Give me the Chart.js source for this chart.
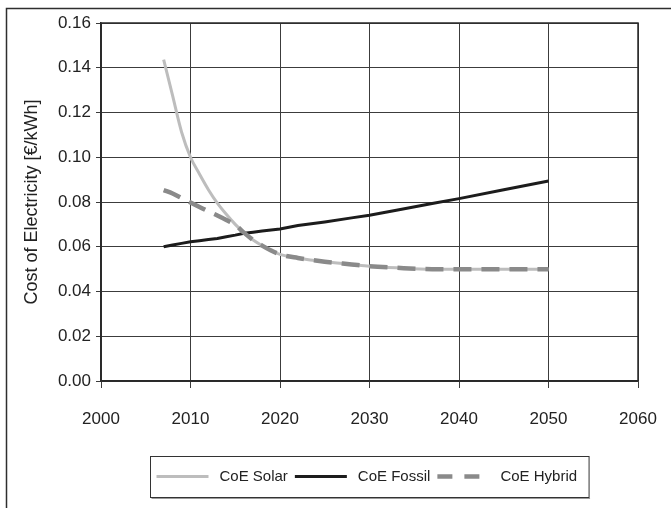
<!DOCTYPE html>
<html>
<head>
<meta charset="utf-8">
<script src="https://cdn.jsdelivr.net/npm/chart.js@4"></script>
<style>
  html, body { margin: 0; padding: 0; background: #ffffff; }
  canvas { display: block; }
</style>
</head>
<body>
<canvas id="c" width="671" height="508"></canvas>
<script>
// ---- data ----
const years = [2007, 2008, 2009, 2010, 2011, 2012, 2013, 2014, 2015, 2016, 2017, 2018, 2019, 2020,
               2022, 2025, 2028, 2030, 2033, 2037, 2040, 2045, 2050];
const coeSolar = [0.1436, 0.1275, 0.1113, 0.1000, 0.0925, 0.0855, 0.0795, 0.0745, 0.0700, 0.0662, 0.0630, 0.0605, 0.0583, 0.0566,
                  0.0550, 0.0533, 0.0521, 0.0513, 0.0506, 0.0500, 0.0500, 0.0500, 0.0500];
const coeFossil = [0.0600, 0.0608, 0.0615, 0.0622, 0.0627, 0.0632, 0.0637, 0.0645, 0.0652, 0.0660, 0.0665, 0.0670, 0.0675, 0.0679,
                   0.0695, 0.0711, 0.0729, 0.0741, 0.0763, 0.0793, 0.0815, 0.0855, 0.0894];
const coeHybrid = [0.0853, 0.0838, 0.0818, 0.0798, 0.0778, 0.0758, 0.0740, 0.0720, 0.0698, 0.0662, 0.0630, 0.0605, 0.0583, 0.0566,
                   0.0550, 0.0533, 0.0521, 0.0513, 0.0506, 0.0500, 0.0500, 0.0500, 0.0500];
const seriesNames = ['CoE Solar', 'CoE Fossil', 'CoE Hybrid'];
const xTickValues = [2000, 2010, 2020, 2030, 2040, 2050, 2060];
const yTickValues = [0.00, 0.02, 0.04, 0.06, 0.08, 0.10, 0.12, 0.14, 0.16];
const yAxisTitle = 'Cost of Electricity [€/kWh]';

const FONT = "'Liberation Sans', Arial, sans-serif";
const TEXT = '#222222';

function pts(vals) { return years.map((y, i) => ({ x: y, y: vals[i] })); }

const frameAndBorder = {
  id: 'frameAndBorder',
  beforeDraw(chart) {
    const ctx = chart.ctx;
    ctx.save();
    ctx.fillStyle = '#ffffff';
    ctx.fillRect(0, 0, chart.width, chart.height);
    ctx.strokeStyle = '#2e2e2e';
    ctx.lineWidth = 1.5;
    ctx.beginPath();
    ctx.moveTo(6.5, chart.height);
    ctx.lineTo(6.5, 8.5);
    ctx.lineTo(chart.width, 8.5);
    ctx.stroke();
    ctx.restore();
  },
  afterDatasetsDraw(chart) {
    const a = chart.chartArea, ctx = chart.ctx;
    ctx.save();
    ctx.strokeStyle = '#2a2a2a';
    ctx.lineWidth = 1.5;
    ctx.strokeRect(a.left, a.top, a.right - a.left, a.bottom - a.top);
    ctx.restore();
  }
};

const boxedLegend = {
  id: 'boxedLegend',
  afterDraw(chart) {
    const ctx = chart.ctx, a = chart.chartArea;
    ctx.save();
    ctx.font = '15px ' + FONT;
    const lineLen = 52, gapLine = 11, gapText = 7, padL = 6, padR = 12;
    let total = padL + padR;
    chart.data.datasets.forEach((ds, i) => {
      total += lineLen + gapLine + ctx.measureText(ds.label).width + (i < chart.data.datasets.length - 1 ? gapText : 0);
    });
    const cx = (a.left + a.right) / 2;
    const left = Math.round(cx - total / 2) + 0.5;
    const top = a.bottom + 75.5, h = 41;
    const cy = top + 20;
    ctx.strokeStyle = '#333333';
    ctx.lineWidth = 1;
    ctx.strokeRect(left, top, total, h);
    ctx.strokeStyle = '#9a9a9a';
    ctx.beginPath();
    ctx.moveTo(left + 1, top + h + 1);
    ctx.lineTo(left + total + 1, top + h + 1);
    ctx.stroke();
    let x = left + padL;
    chart.data.datasets.forEach((ds) => {
      ctx.strokeStyle = ds.borderColor;
      ctx.lineWidth = ds.borderWidth;
      ctx.setLineDash(ds.borderDash && ds.borderDash.length ? [15, 12] : []);
      ctx.beginPath();
      ctx.moveTo(x, cy);
      ctx.lineTo(x + lineLen, cy);
      ctx.stroke();
      ctx.setLineDash([]);
      x += lineLen + gapLine;
      ctx.fillStyle = TEXT;
      ctx.textBaseline = 'middle';
      ctx.textAlign = 'left';
      ctx.fillText(ds.label, x, cy);
      x += ctx.measureText(ds.label).width + gapText;
    });
    ctx.restore();
  }
};

new Chart(document.getElementById('c'), {
  type: 'line',
  data: {
    datasets: [
      { label: seriesNames[0], data: pts(coeSolar), borderColor: '#bdbdbd', borderWidth: 3,
        pointRadius: 0, cubicInterpolationMode: 'monotone', order: 3 },
      { label: seriesNames[1], data: pts(coeFossil), borderColor: '#1c1c1c', borderWidth: 3,
        pointRadius: 0, tension: 0, order: 2 },
      { label: seriesNames[2], data: pts(coeHybrid), borderColor: '#8a8a8a', borderWidth: 4.5,
        borderDash: [18, 10], pointRadius: 0, cubicInterpolationMode: 'monotone', order: 1 }
    ]
  },
  options: {
    responsive: false,
    animation: false,
    layout: { padding: { top: 23, right: 33, bottom: 0, left: 0 } },
    plugins: { legend: { display: false }, tooltip: { enabled: false } },
    scales: {
      x: {
        type: 'linear',
        min: xTickValues[0],
        max: xTickValues[xTickValues.length - 1],
        afterBuildTicks(scale) { scale.ticks = xTickValues.map(v => ({ value: v })); },
        afterFit(scale) { scale.height = 127; scale.paddingLeft = 0; scale.paddingRight = 0; },
        ticks: {
          callback: v => String(v),
          font: { family: FONT, size: 17 },
          color: TEXT,
          padding: 21,
          maxRotation: 0
        },
        grid: { color: '#3c3c3c', lineWidth: 1, tickLength: 7, drawTicks: true },
        border: { color: '#2a2a2a', width: 1.5 }
      },
      y: {
        type: 'linear',
        min: yTickValues[0],
        max: yTickValues[yTickValues.length - 1],
        afterBuildTicks(scale) { scale.ticks = yTickValues.map(v => ({ value: v })); },
        afterFit(scale) { scale.width = 101; scale.paddingTop = 0; scale.paddingBottom = 0; },
        ticks: {
          callback: v => Number(v).toFixed(2),
          font: { family: FONT, size: 17 },
          color: TEXT,
          padding: 5
        },
        grid: { color: '#3c3c3c', lineWidth: 1, tickLength: 5 },
        border: { color: '#2a2a2a', width: 1.5 },
        title: {
          display: true,
          text: yAxisTitle,
          font: { family: FONT, size: 18 },
          color: TEXT,
          padding: { top: 21, bottom: 0 }
        }
      }
    }
  },
  plugins: [frameAndBorder, boxedLegend]
});
</script>
</body>
</html>
